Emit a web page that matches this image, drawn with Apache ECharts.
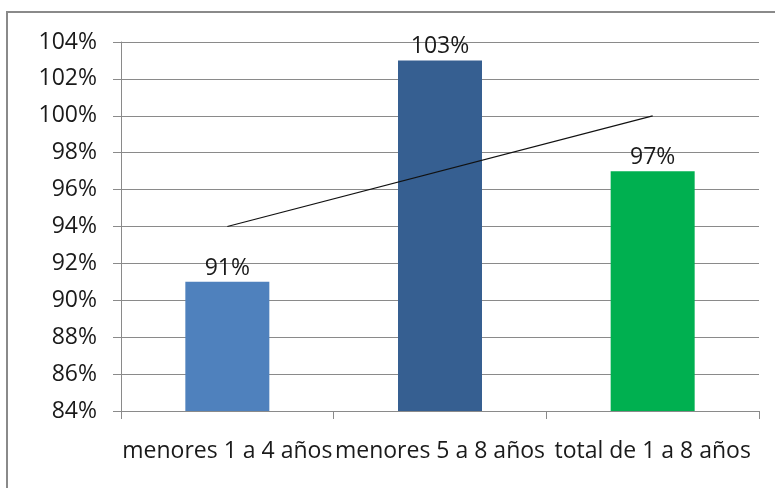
<!DOCTYPE html>
<html>
<head>
<meta charset="utf-8">
<script src="https://cdn.jsdelivr.net/npm/echarts@6/dist/echarts.min.js"></script>
<style>
html,body{margin:0;padding:0;overflow:hidden;background:#fff;}
#chart{width:775px;height:488px;}
</style>
</head>
<body>
<div id="chart"></div>
<script>
var categories = ['menores 1 a 4 años', 'menores 5 a 8 años', 'total de 1 a 8 años'];
var coverage = [91, 103, 97];
var trendLine = [94, null, 100];
var yTicks = { min: 84, max: 104, step: 2 };

var barColors = ['#4F81BD', '#365F91', '#00B050'];
var FONT = '"Open Sans", "Liberation Sans", sans-serif';

var chart = echarts.init(document.getElementById('chart'), null, { renderer: 'canvas' });
chart.setOption({
  animation: false,
  backgroundColor: '#fff',
  graphic: [{
    type: 'rect',
    shape: { x: 7, y: 12, width: 900, height: 600 },
    style: { fill: 'none', stroke: '#8a8a8a', lineWidth: 2 },
    silent: true,
    z: -10
  }],
  grid: { left: 121, top: 42, right: 16, bottom: 77, containLabel: false },
  xAxis: {
    type: 'category',
    data: categories,
    boundaryGap: true,
    axisLine: { lineStyle: { color: '#8a8a8a', width: 1 } },
    axisTick: { show: true, length: 8, alignWithLabel: false, lineStyle: { color: '#8a8a8a' } },
    axisLabel: { interval: 0, margin: 29, color: '#1a1a1a', fontSize: 23, fontFamily: FONT }
  },
  yAxis: {
    type: 'value',
    min: yTicks.min,
    max: yTicks.max,
    interval: yTicks.step,
    axisLine: { show: true, lineStyle: { color: '#8a8a8a', width: 1 } },
    axisTick: { show: true, length: 8, lineStyle: { color: '#8a8a8a' } },
    splitLine: { show: true, lineStyle: { color: '#8a8a8a', width: 1 } },
    axisLabel: { formatter: '{value}%', margin: 24, color: '#1a1a1a', fontSize: 23, fontFamily: FONT }
  },
  series: [{
    type: 'bar',
    barWidth: 84,
    data: coverage.map(function (v, i) { return { value: v, itemStyle: { color: barColors[i] } }; }),
    label: {
      show: true, position: 'top', distance: 2,
      formatter: '{c}%', color: '#1a1a1a', fontSize: 23, fontFamily: FONT
    },
    z: 2
  }, {
    type: 'line',
    data: trendLine,
    connectNulls: true,
    symbol: 'none',
    lineStyle: { color: '#111', width: 1.2 },
    z: 3
  }]
});
</script>
</body>
</html>
